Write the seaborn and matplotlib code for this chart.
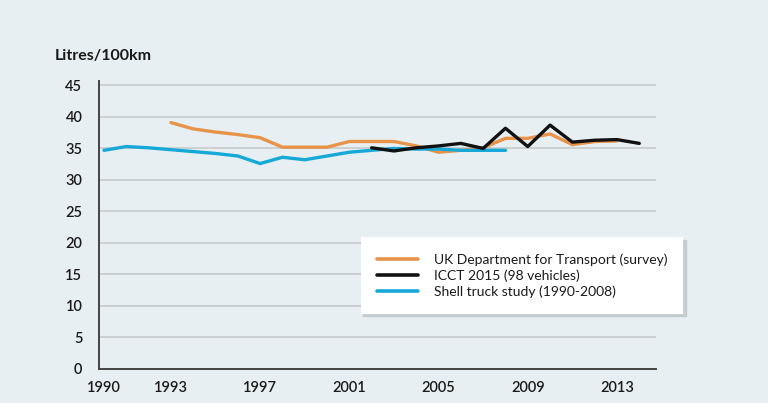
import numpy as np
import pandas as pd
import seaborn as sns
import matplotlib.pyplot as plt

# values (litres per 100 km)
dft_years = [1993, 1994, 1995, 1996, 1997, 1998, 1999, 2000, 2001, 2002, 2003,
             2004, 2005, 2006, 2007, 2008, 2009, 2010, 2011, 2012, 2013]
dft_values = [39.1, 38.1, 37.6, 37.2, 36.7, 35.2, 35.2, 35.2, 36.1, 36.1, 36.1,
              35.4, 34.4, 34.7, 35.1, 36.6, 36.6, 37.3, 35.6, 36.1, 36.2]

icct_years = [2002, 2003, 2004, 2005, 2006, 2007, 2008, 2009, 2010, 2011, 2012, 2013, 2014]
icct_values = [35.1, 34.6, 35.1, 35.4, 35.8, 35.0, 38.2, 35.3, 38.7, 36.0, 36.3, 36.4, 35.8]

shell_years = list(range(1990, 2009))
shell_values = [34.7, 35.3, 35.1, 34.8, 34.5, 34.2, 33.8, 32.6, 33.6, 33.2,
                33.8, 34.4, 34.7, 35.0, 34.9, 34.9, 34.7, 34.7, 34.7]

series_names = ["UK Department for Transport (survey)",
                "ICCT 2015 (98 vehicles)",
                "Shell truck study (1990-2008)"]
series_colors = ["#e8934a", "#111111", "#16a9d8"]
x_ticks = [1990, 1993, 1997, 2001, 2005, 2009, 2013]
y_ticks = list(range(0, 50, 5))

bg = "#e8eff2"

df = pd.concat([
    pd.DataFrame({"year": dft_years, "value": dft_values, "series": series_names[0]}),
    pd.DataFrame({"year": icct_years, "value": icct_values, "series": series_names[1]}),
    pd.DataFrame({"year": shell_years, "value": shell_values, "series": series_names[2]}),
], ignore_index=True)

sns.set_style("white")
plt.rcParams["font.family"] = ["Lato", "DejaVu Sans"]

fig = plt.figure(figsize=(7.68, 4.03), dpi=100, facecolor=bg)
ax = fig.add_axes([99 / 768, 34 / 403, 557 / 768, 288 / 403])
ax.set_facecolor(bg)

for y in y_ticks[1:]:
    ax.axhline(y, color="#c9cdd0", lw=1.3, zorder=0)

sns.lineplot(data=df, x="year", y="value", hue="series", hue_order=series_names,
             palette=dict(zip(series_names, series_colors)), linewidth=2.4,
             ax=ax, legend=False, estimator=None, sort=False)
# keep the black line on top
for line, z in zip(ax.get_lines()[-3:], [3, 4, 3]):
    line.set_zorder(z)

ax.set_xlim(1989.776, 2014.75)
ax.set_ylim(0, 45.7)
ax.set_xticks(x_ticks)
ax.set_yticks(y_ticks)
ax.set_xlabel("")
ax.set_ylabel("")
ax.tick_params(axis="both", length=0, labelsize=10.5, colors="#1a1a1a")
ax.tick_params(axis="x", pad=9)
ax.tick_params(axis="y", pad=12)
for lbl in ax.get_xticklabels() + ax.get_yticklabels():
    lbl.set_fontweight("semibold")

for side in ["top", "right"]:
    ax.spines[side].set_visible(False)
for side in ["left", "bottom"]:
    ax.spines[side].set_color("#444444")
    ax.spines[side].set_linewidth(1.4)

fig.text(55 / 768, 1 - 56 / 403, "Litres/100km", fontsize=11.5, fontweight="bold",
         color="#1a1a1a", va="center", ha="left")

handles = [plt.Line2D([], [], color=c, lw=2.6) for c in series_colors]
leg = ax.legend(handles, series_names, loc="upper right",
                bbox_to_anchor=(683 / 768, 1 - 237 / 403), bbox_transform=fig.transFigure,
                borderaxespad=0, frameon=True, fancybox=False, fontsize=10,
                handlelength=3.0, handletextpad=1.1, labelspacing=0.25,
                borderpad=1.15, shadow={"color": "#b4bcc0", "alpha": 0.6, "ox": 2, "oy": -2})
leg.get_frame().set_facecolor("white")
leg.get_frame().set_edgecolor("none")
leg.get_frame().set_alpha(1)
for t in leg.get_texts():
    t.set_color("#1a1a1a")

fig.savefig("out.png", dpi=100, facecolor=bg)
